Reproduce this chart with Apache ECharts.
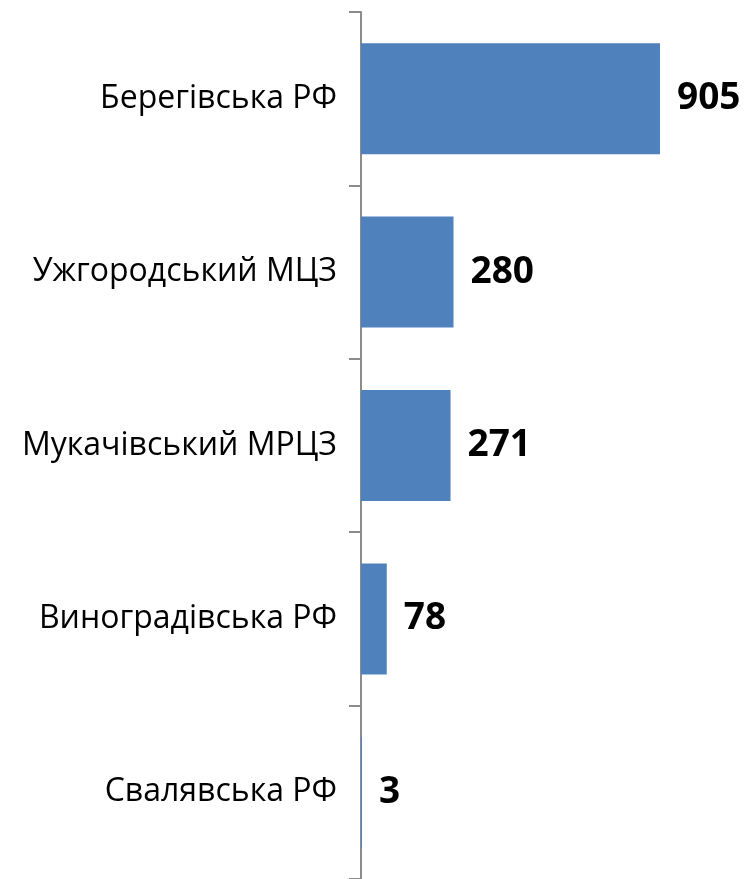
<!DOCTYPE html>
<html>
<head>
<meta charset="utf-8">
<script src="https://cdn.jsdelivr.net/npm/echarts@6/dist/echarts.min.js"></script>
<style>
  html, body { margin: 0; padding: 0; background: #fff; }
  #chart { width: 744px; height: 879px; }
</style>
</head>
<body>
<div id="chart"></div>
<script>
const categories = ['Берегівська РФ', 'Ужгородський МЦЗ', 'Мукачівський МРЦЗ', 'Виноградівська РФ', 'Свалявська РФ'];
const values = [905, 280, 271, 78, 3];

const chart = echarts.init(document.getElementById('chart'));
chart.setOption({
    animation: false,
    grid: { left: 361, right: 84, top: 12, bottom: 0, containLabel: false },
    xAxis: {
        type: 'value', min: 0, max: 905,
        show: false
    },
    yAxis: {
        type: 'category', data: categories, inverse: true,
        axisLine: { show: true, lineStyle: { color: '#8c8c8c', width: 2 } },
        axisTick: { show: true, length: 12, lineStyle: { color: '#8c8c8c', width: 2 } },
        axisLabel: { margin: 24, fontSize: 32, color: '#000', fontFamily: 'Open Sans' }
    },
    series: [{
        type: 'bar', data: values, barCategoryGap: '36%',
        itemStyle: { color: '#4f81bd' },
        label: {
            show: true, position: 'right', distance: 17,
            fontSize: 37, fontWeight: 'bold', color: '#000', fontFamily: 'Open Sans'
        }
    }]
});
</script>
</body>
</html>
